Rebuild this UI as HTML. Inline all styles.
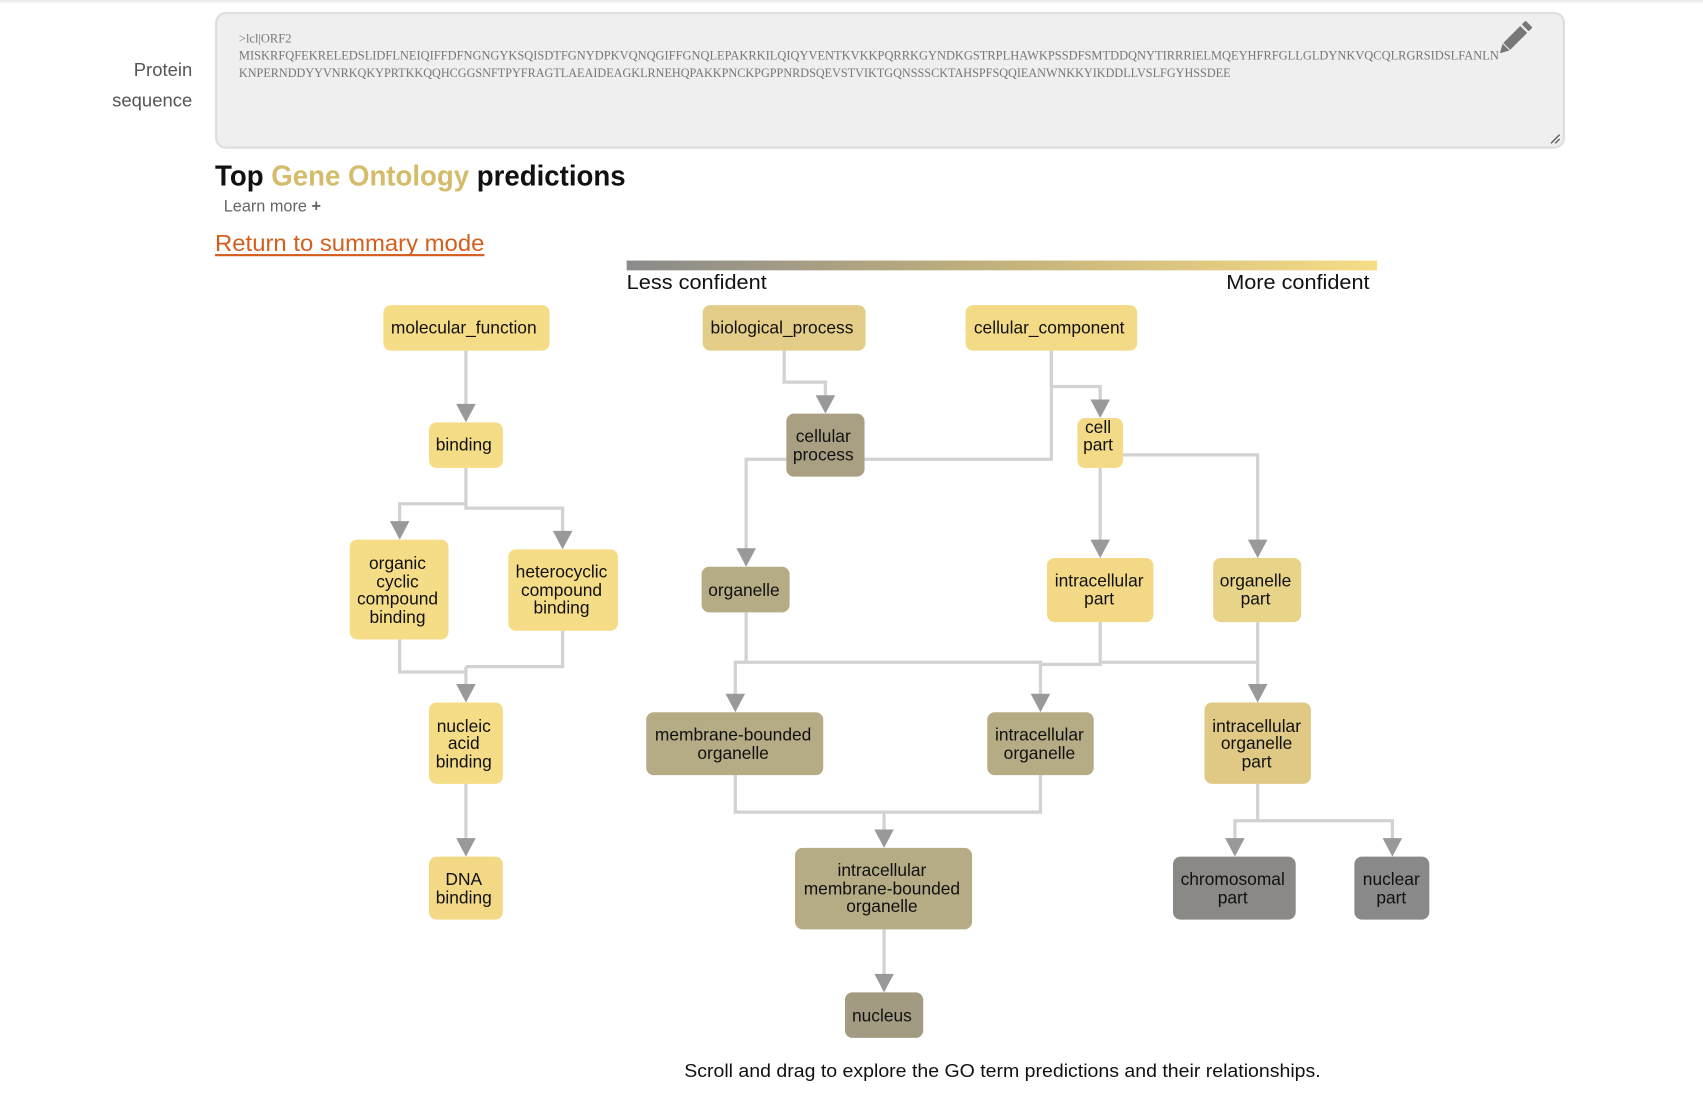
<!DOCTYPE html>
<html><head><meta charset="utf-8"><style>
html,body{margin:0;padding:0;background:#fff;overflow:hidden}
svg{display:block}
.n{font-family:"Liberation Sans",Arial,sans-serif;font-size:16px;fill:#111;text-anchor:middle}
.e{fill:none;stroke:#d2d2d2;stroke-width:3}
.a{fill:#999}
</style></head><body>
<svg width="1703" height="1115" viewBox="0 0 1568 1027" preserveAspectRatio="none" xmlns="http://www.w3.org/2000/svg">
<defs>
<linearGradient id="g" x1="0" x2="1" y1="0" y2="0"><stop offset="0" stop-color="#8a8a8a"/><stop offset="0.5" stop-color="#c4b27c"/><stop offset="1" stop-color="#f6dd86"/></linearGradient>
<linearGradient id="sh" x1="0" x2="0" y1="0" y2="1"><stop offset="0" stop-color="#e8e8e8"/><stop offset="1" stop-color="#fff"/></linearGradient>
</defs>
<rect x="0" y="0" width="1568" height="4" fill="url(#sh)"/>
<text x="177" y="70" text-anchor="end" font-family="Liberation Sans, sans-serif" font-size="17" fill="#555">Protein</text>
<text x="177" y="98" text-anchor="end" font-family="Liberation Sans, sans-serif" font-size="17" fill="#555">sequence</text>
<rect x="199" y="12" width="1241" height="124" rx="9" fill="#efefef" stroke="#dedede" stroke-width="2"/>
<g font-family="Liberation Serif, serif" font-size="11.5" fill="#777">
<text x="220" y="39">&gt;lcl|ORF2</text>
<text x="220" y="55" textLength="1160" lengthAdjust="spacingAndGlyphs">MISKRFQFEKRELEDSLIDFLNEIQIFFDFNGNGYKSQISDTFGNYDPKVQNQGIFFGNQLEPAKRKILQIQYVENTKVKKPQRRKGYNDKGSTRPLHAWKPSSDFSMTDDQNYTIRRRIELMQEYHFRFGLLGLDYNKVQCQLRGRSIDSLFANLN</text>
<text x="220" y="71" textLength="913" lengthAdjust="spacingAndGlyphs">KNPERNDDYYVNRKQKYPRTKKQQHCGGSNFTPYFRAGTLAEAIDEAGKLRNEHQPAKKPNCKPGPPNRDSQEVSTVIKTGQNSSSCKTAHSPFSQQIEANWNKKYIKDDLLVSLFGYHSSDEE</text>
</g>
<g transform="translate(1393,37) rotate(45)" fill="#777">
<rect x="-4.5" y="-14" width="9" height="22"/>
<rect x="-4.5" y="-21" width="9" height="5" rx="1"/>
<polygon points="-4.5,9 4.5,9 0,17"/>
</g>
<path d="M1428 132 L1436 124 M1432 132 L1436 128" stroke="#555" stroke-width="1.2"/>
<text x="198" y="171" font-family="Liberation Sans, sans-serif" font-size="26" font-weight="bold" fill="#111" textLength="378" lengthAdjust="spacingAndGlyphs">Top <tspan fill="#d4bc6a">Gene Ontology</tspan> predictions</text>
<text x="206" y="195" font-family="Liberation Sans, sans-serif" font-size="15" fill="#666">Learn more <tspan font-weight="bold">+</tspan></text>
<text x="198" y="231" font-family="Liberation Sans, sans-serif" font-size="21" fill="#d35f1e" textLength="248" lengthAdjust="spacingAndGlyphs">Return to summary mode</text>
<rect x="198" y="234" width="248" height="2" fill="#d35f1e"/>
<rect x="577" y="240" width="691" height="9" fill="url(#g)"/>
<text x="577" y="266" font-family="Liberation Sans, sans-serif" font-size="19" fill="#111" textLength="129" lengthAdjust="spacingAndGlyphs">Less confident</text>
<text x="1129" y="266" font-family="Liberation Sans, sans-serif" font-size="19" fill="#111" textLength="132" lengthAdjust="spacingAndGlyphs">More confident</text>

<!-- edges -->
<path class="e" d="M429 323 V374"/>
<path class="e" d="M429 431 V464 H368 V482 M429 464 V468 H518 V491"/>
<path class="e" d="M722 323 V352 H760 V366"/>
<path class="e" d="M724 423 H687 V507"/>
<path class="e" d="M968 323 V356 H1013 V370"/>
<path class="e" d="M796 423 H968 V323"/>
<path class="e" d="M1013 431 V499"/>
<path class="e" d="M1034 419 H1158 V499"/>
<path class="e" d="M687 564 V610 H677 V641 M687 610 H958 V641"/>
<path class="e" d="M1013 573 V612 H958 M1013 610 H1158 M1158 573 V632"/>
<path class="e" d="M677 714 V748 H958 V714 M814 748 V766"/>
<path class="e" d="M814 856 V899"/>
<path class="e" d="M1158 722 V756 H1137 V774 M1158 756 H1282 V774"/>
<path class="e" d="M368 589 V619 H429 M518 581 V614 H429 M429 614 V632"/>
<path class="e" d="M429 722 V774"/>
<!-- arrows -->
<g class="a">
<polygon points="420,372 438,372 429,389"/>
<polygon points="359,480 377,480 368,497"/>
<polygon points="509,489 527,489 518,506"/>
<polygon points="751,364 769,364 760,381"/>
<polygon points="678,505 696,505 687,522"/>
<polygon points="1004,368 1022,368 1013,385"/>
<polygon points="1004,497 1022,497 1013,514"/>
<polygon points="1149,497 1167,497 1158,514"/>
<polygon points="668,639 686,639 677,656"/>
<polygon points="949,639 967,639 958,656"/>
<polygon points="1149,630 1167,630 1158,647"/>
<polygon points="805,764 823,764 814,781"/>
<polygon points="805,897 823,897 814,914"/>
<polygon points="1128,772 1146,772 1137,789"/>
<polygon points="1273,772 1291,772 1282,789"/>
<polygon points="420,630 438,630 429,647"/>
<polygon points="420,772 438,772 429,789"/>
</g>

<!-- nodes -->
<rect x="353" y="281" width="153" height="42" rx="7" fill="#f5dc86"/>
<text class="n" x="427" y="307">molecular_function</text>
<rect x="647" y="281" width="150" height="42" rx="7" fill="#e3cd88"/>
<text class="n" x="720" y="307">biological_process</text>
<rect x="889" y="281" width="158" height="42" rx="7" fill="#f3da86"/>
<text class="n" x="966" y="307">cellular_component</text>
<rect x="395" y="389" width="68" height="42" rx="7" fill="#f5dc86"/>
<text class="n" x="427" y="415">binding</text>
<rect x="724" y="381" width="72" height="58" rx="7" fill="#a9a084"/>
<text class="n" x="758" y="407">cellular</text><text class="n" x="758" y="424">process</text>
<rect x="992" y="385" width="42" height="46" rx="7" fill="#f3da86"/>
<text class="n" x="1011" y="399">cell</text><text class="n" x="1011" y="415">part</text>
<rect x="322" y="497" width="91" height="92" rx="7" fill="#f5dc86"/>
<text class="n" x="366" y="524">organic</text><text class="n" x="366" y="541">cyclic</text><text class="n" x="366" y="557">compound</text><text class="n" x="366" y="574">binding</text>
<rect x="468" y="506" width="101" height="75" rx="7" fill="#f5dc86"/>
<text class="n" x="517" y="532">heterocyclic</text><text class="n" x="517" y="549">compound</text><text class="n" x="517" y="565">binding</text>
<rect x="646" y="522" width="81" height="42" rx="7" fill="#b5ab84"/>
<text class="n" x="685" y="549">organelle</text>
<rect x="964" y="514" width="98" height="59" rx="7" fill="#f3d886"/>
<text class="n" x="1012" y="540">intracellular</text><text class="n" x="1012" y="557">part</text>
<rect x="1117" y="514" width="81" height="59" rx="7" fill="#e8d488"/>
<text class="n" x="1156" y="540">organelle</text><text class="n" x="1156" y="557">part</text>
<rect x="395" y="647" width="68" height="75" rx="7" fill="#f5dc86"/>
<text class="n" x="427" y="674">nucleic</text><text class="n" x="427" y="690">acid</text><text class="n" x="427" y="707">binding</text>
<rect x="595" y="656" width="163" height="58" rx="7" fill="#b5ab84"/>
<text class="n" x="675" y="682">membrane-bounded</text><text class="n" x="675" y="699">organelle</text>
<rect x="909" y="656" width="98" height="58" rx="7" fill="#b5ab84"/>
<text class="n" x="957" y="682">intracellular</text><text class="n" x="957" y="699">organelle</text>
<rect x="1109" y="647" width="98" height="75" rx="7" fill="#dfc985"/>
<text class="n" x="1157" y="674">intracellular</text><text class="n" x="1157" y="690">organelle</text><text class="n" x="1157" y="707">part</text>
<rect x="395" y="789" width="68" height="58" rx="7" fill="#f3d886"/>
<text class="n" x="427" y="815">DNA</text><text class="n" x="427" y="832">binding</text>
<rect x="732" y="781" width="163" height="75" rx="7" fill="#b5ab84"/>
<text class="n" x="812" y="807">intracellular</text><text class="n" x="812" y="824">membrane-bounded</text><text class="n" x="812" y="840">organelle</text>
<rect x="1080" y="789" width="113" height="58" rx="7" fill="#8a8985"/>
<text class="n" x="1135" y="815">chromosomal</text><text class="n" x="1135" y="832">part</text>
<rect x="1247" y="789" width="69" height="58" rx="7" fill="#898989"/>
<text class="n" x="1281" y="815">nuclear</text><text class="n" x="1281" y="832">part</text>
<rect x="778" y="914" width="72" height="42" rx="7" fill="#a29b82"/>
<text class="n" x="812" y="941">nucleus</text>

<text x="630" y="992" font-family="Liberation Sans, sans-serif" font-size="17" fill="#111" textLength="586" lengthAdjust="spacingAndGlyphs">Scroll and drag to explore the GO term predictions and their relationships.</text>
</svg>
</body></html>
